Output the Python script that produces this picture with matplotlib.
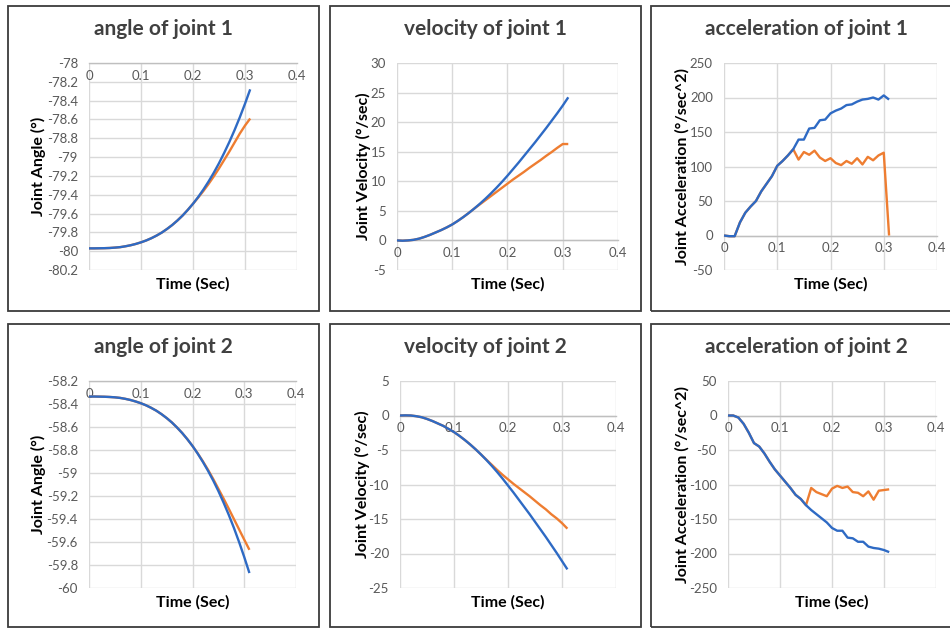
#!/usr/bin/env python3
"""Joint angle / velocity / acceleration traces for two joints (Excel-style panels)."""

from __future__ import annotations

import matplotlib

matplotlib.use("Agg")
import matplotlib.pyplot as plt
from matplotlib.patches import Rectangle
from matplotlib.ticker import FuncFormatter

W, H = 950, 628

TIME = [0.00, 0.01, 0.02, 0.03, 0.04, 0.05, 0.06, 0.07, 0.08, 0.09,
        0.10, 0.11, 0.12, 0.13, 0.14, 0.15, 0.16, 0.17, 0.18, 0.19,
        0.20, 0.21, 0.22, 0.23, 0.24, 0.25, 0.26, 0.27, 0.28, 0.29,
        0.30, 0.31]

ANGLE1_BLUE = [-79.970, -79.970, -79.969, -79.968, -79.966, -79.962, -79.957, -79.948,
               -79.937, -79.923, -79.906, -79.886, -79.862, -79.834, -79.802, -79.764,
               -79.722, -79.674, -79.621, -79.561, -79.496, -79.424, -79.345, -79.259,
               -79.166, -79.065, -78.955, -78.838, -78.712, -78.577, -78.433, -78.280]
ANGLE1_ORANGE = ANGLE1_BLUE[:21] + [-79.430, -79.360, -79.285, -79.205, -79.120, -79.030,
                                    -78.940, -78.845, -78.750, -78.665, -78.590]

VEL1_BLUE = [0, -0.05, 0, 0.1, 0.3, 0.6, 0.95, 1.35, 1.75, 2.2, 2.7, 3.3, 3.95, 4.65, 5.4,
             6.2, 7.05, 7.95, 8.9, 9.9, 10.95, 12.05, 13.15, 14.3, 15.45, 16.6, 17.8, 19.0,
             20.25, 21.5, 22.8, 24.2]
VEL1_ORANGE = VEL1_BLUE[:15] + [6.1, 6.8, 7.5, 8.2, 8.9, 9.6, 10.3, 10.95, 11.6, 12.3,
                                12.95, 13.6, 14.3, 14.95, 15.65, 16.3, 16.3]

ACC1_BLUE = [0, -1, -1, 19, 33, 42, 50, 64, 75, 86, 101, 108, 116, 125, 139, 139, 155,
             156, 167, 168, 177, 181, 184, 189, 190, 194, 197, 198, 200, 197, 203, 197]
ACC1_ORANGE = ACC1_BLUE[:14] + [110, 121, 117, 123, 113, 108, 112, 105, 102, 108, 104,
                                112, 103, 114, 109, 116, 120, 0]

ANGLE2_BLUE = [-58.335, -58.335, -58.336, -58.337, -58.339, -58.342, -58.347, -58.355,
               -58.365, -58.378, -58.393, -58.411, -58.433, -58.458, -58.488, -58.522,
               -58.560, -58.604, -58.652, -58.706, -58.765, -58.831, -58.903, -58.981,
               -59.065, -59.157, -59.257, -59.363, -59.477, -59.600, -59.731, -59.870]
ANGLE2_ORANGE = ANGLE2_BLUE[:21] + [-58.829, -58.898, -58.972, -59.052, -59.137, -59.222,
                                    -59.310, -59.400, -59.490, -59.580, -59.668]

VEL2_BLUE = [0, 0.02, 0, -0.1, -0.25, -0.5, -0.8, -1.15, -1.5, -1.95, -2.4, -2.95, -3.55,
             -4.2, -4.9, -5.65, -6.45, -7.3, -8.2, -9.15, -10.15, -11.15, -12.2, -13.25,
             -14.3, -15.4, -16.5, -17.6, -18.75, -19.9, -21.1, -22.3]
VEL2_ORANGE = VEL2_BLUE[:16] + [-6.4, -7.15, -7.9, -8.6, -9.25, -9.9, -10.5, -11.1, -11.7,
                                -12.35, -13.0, -13.6, -14.3, -14.9, -15.6, -16.4]

ACC2_BLUE = [0, 0, -3, -12, -25, -40, -45, -55, -67, -78, -87, -96, -105, -115, -121,
             -130, -137, -143, -149, -155, -163, -167, -167, -177, -178, -183, -183, -190,
             -192, -193, -195, -198]
ACC2_ORANGE = ACC2_BLUE[:16] + [-105, -111, -114, -117, -106, -102, -105, -103, -111, -112,
                                -117, -110, -122, -109, -108, -107]

X_TICKS = [0, 0.1, 0.2, 0.3, 0.4]
X_TICK_LABELS = ["0", "0.1", "0.2", "0.3", "0.4"]

BLUE = "#2E6AC4"
ORANGE = "#EE7D31"
GRID = "#D9D9D9"
TICK_COLOR = "#595959"
FONT = ["Lato", "DejaVu Sans"]

# title, ylabel, blue, orange, (ymin, ymax, step), axis crossing, plot rect px, box rect px, ylabel x px
PANELS = [
    ("angle of joint 1", "Joint Angle (°)", ANGLE1_BLUE, ANGLE1_ORANGE,
     (-80.2, -78.0, 0.2), "top", (89, 63, 297, 270), (8, 6, 319, 311), 38),
    ("velocity of joint 1", "Joint Velocity (°/sec)", VEL1_BLUE, VEL1_ORANGE,
     (-5, 30, 5), 0, (397, 63, 618, 270), (330, 6, 641, 311), 363),
    ("acceleration of joint 1", "Joint Acceleration (°/sec^2)", ACC1_BLUE, ACC1_ORANGE,
     (-50, 250, 50), 0, (724, 63, 937, 270), (651, 6, 962, 311), 682),
    ("angle of joint 2", "Joint Angle (°)", ANGLE2_BLUE, ANGLE2_ORANGE,
     (-60.0, -58.2, 0.2), "top", (89, 381, 296, 588), (8, 324, 319, 627), 38),
    ("velocity of joint 2", "Joint Velocity (°/sec)", VEL2_BLUE, VEL2_ORANGE,
     (-25, 5, 5), 0, (400, 381, 616, 588), (330, 324, 641, 627), 362),
    ("acceleration of joint 2", "Joint Acceleration (°/sec^2)", ACC2_BLUE, ACC2_ORANGE,
     (-250, 50, 50), 0, (728, 381, 936, 588), (651, 324, 962, 627), 682),
]


def fig_rect(x0, y0, x1, y1):
    return [x0 / W, 1 - y1 / H, (x1 - x0) / W, (y1 - y0) / H]


def plot_panel(fig, spec):
    title, ylabel, blue, orange, (ymin, ymax, step), cross, prect, brect, ylab_x = spec

    bx = fig_rect(*brect)
    fig.add_artist(Rectangle((bx[0], bx[1]), bx[2], bx[3], transform=fig.transFigure,
                             fill=False, ec="#3C3C3C", lw=1.3))

    ax = fig.add_axes(fig_rect(*prect))
    ax.plot(TIME, orange, color=ORANGE, lw=1.7, zorder=3, solid_capstyle="butt")
    ax.plot(TIME, blue, color=BLUE, lw=1.7, zorder=4, solid_capstyle="butt")

    ax.set_xlim(0, 0.4)
    ax.set_ylim(ymin, ymax)
    n = int(round((ymax - ymin) / step))
    ax.set_yticks([round(ymin + i * step, 1) for i in range(n + 1)])
    ax.yaxis.set_major_formatter(FuncFormatter(lambda v, _p: f"{round(v, 1):g}"))
    ax.set_xticks(X_TICKS)
    ax.set_xticklabels(X_TICK_LABELS)

    ax.grid(color=GRID, lw=1.0)
    ax.set_axisbelow(True)
    for side in ["top", "right", "left"]:
        ax.spines[side].set_visible(False)
    if cross == "top":
        ax.spines["bottom"].set_position(("axes", 1.0))
    else:
        ax.spines["bottom"].set_position(("data", cross))
    ax.spines["bottom"].set_color("#BFBFBF")
    ax.spines["bottom"].set_linewidth(1.0)
    ax.spines["bottom"].set_zorder(2)

    ax.tick_params(axis="both", length=0, labelcolor=TICK_COLOR, labelsize=9.5)
    ax.tick_params(axis="x", pad=5)
    ax.tick_params(axis="y", pad=8)
    for lab in ax.get_xticklabels() + ax.get_yticklabels():
        lab.set_family(FONT)

    # chart title is centred on the whole chart box, axis title on the plot area
    box_cx = (brect[0] + brect[2]) / 2
    fig.text(box_cx / W, 1 - (prect[1] - 34) / H, title, ha="center", va="center",
             fontsize=15, fontweight="bold", color="#404040", family=FONT)
    cx = (prect[0] + prect[2]) / 2
    fig.text(cx / W, 1 - (prect[3] + 14) / H, "Time (Sec)", ha="center", va="center",
             fontsize=11.5, fontweight="bold", color="black", family=FONT)
    cy = (prect[1] + prect[3]) / 2
    fig.text(ylab_x / W, 1 - cy / H, ylabel, ha="center", va="center", rotation=90,
             fontsize=11.5, fontweight="bold", color="black", family=FONT)


def main() -> None:
    plt.rcParams.update({"font.family": FONT, "figure.facecolor": "white"})
    fig = plt.figure(figsize=(W / 100, H / 100), dpi=100)
    for spec in PANELS:
        plot_panel(fig, spec)
    fig.savefig("out.png", dpi=100)


if __name__ == "__main__":
    main()
